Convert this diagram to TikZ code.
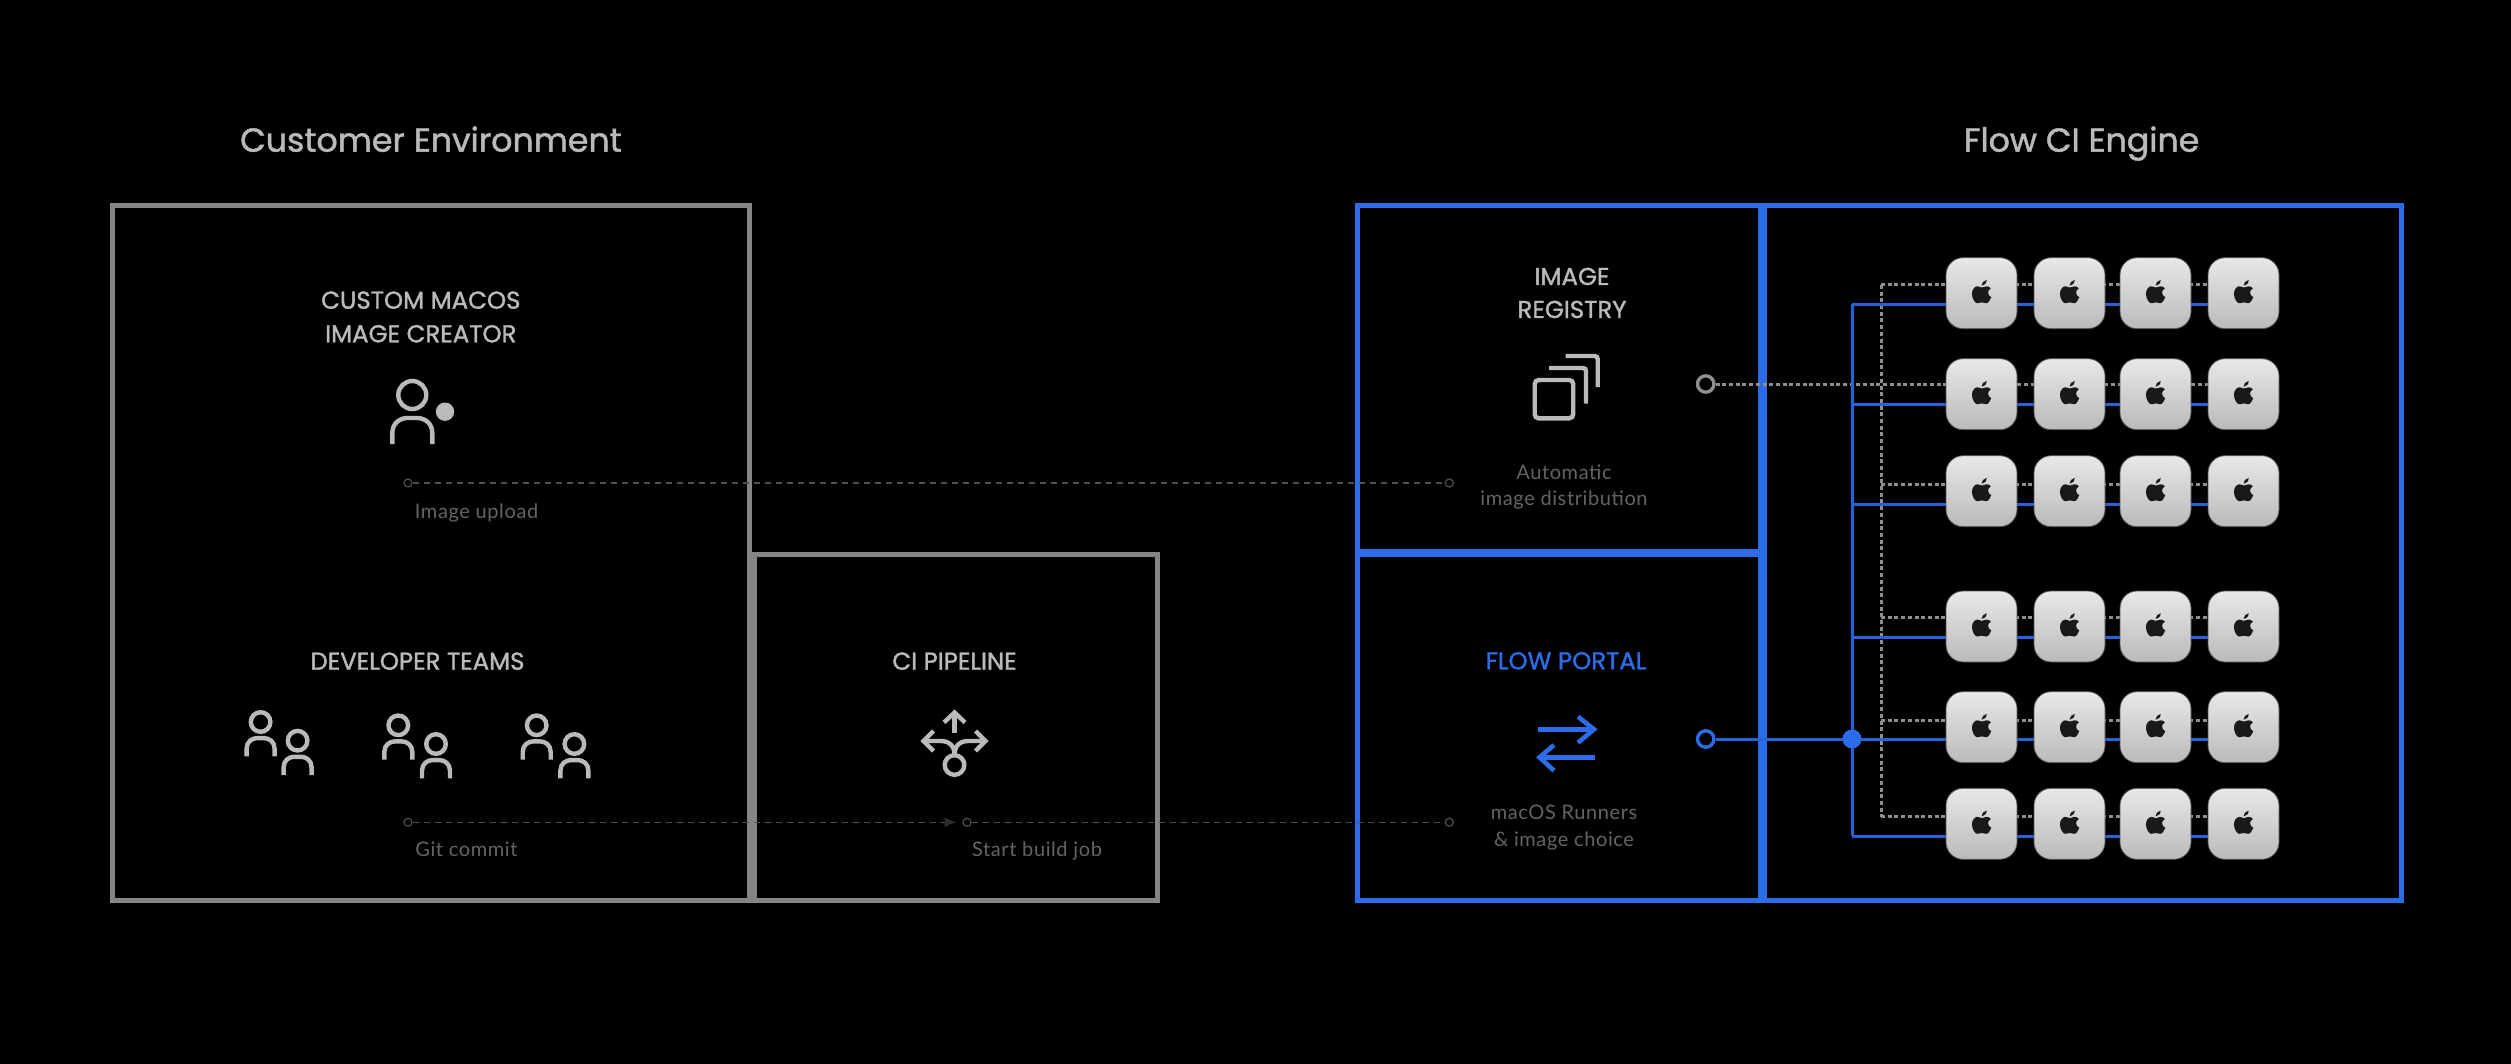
\documentclass[tikz,border=0pt]{standalone}
\usepackage{fontspec}
\setmainfont{Lato}
\newfontfamily\medfont[FakeBold=1.4]{Poppins}
\newfontfamily\dimfont[LetterSpace=3]{Lato}
\usetikzlibrary{arrows.meta}
\definecolor{boxgray}{HTML}{858585}
\definecolor{boxblue}{HTML}{2C6CE8}
\definecolor{linkblue}{HTML}{2862D8}
\definecolor{headtext}{HTML}{BABABA}
\definecolor{dimtext}{HTML}{646464}
\definecolor{dimline}{HTML}{505050}
\definecolor{dotgray}{HTML}{8E8E8E}
\tikzset{
  x=0.5pt,y=-0.5pt,
  box/.style={draw,rectangle,inner sep=0pt,outer sep=0pt,line width=2.5pt},
  graybox/.style={box,draw=boxgray},
  bluebox/.style={box,draw=boxblue},
  title/.style={anchor=base,inner sep=0pt,text=headtext,font=\medfont\fontsize{16.6}{20}\selectfont},
  heading/.style={anchor=base,inner sep=0pt,text=headtext,align=center,font=\medfont\fontsize{12.2}{16.6}\selectfont},
  dimlabel/.style={anchor=base,inner sep=0pt,text=dimtext,align=center,font=\dimfont\fontsize{10}{13.4}\selectfont},
  icon/.style={draw=headtext,line width=2.2pt,fill=none},
  dashlink/.style={draw=dimline,line width=0.6pt,dash pattern=on 3pt off 2.5pt},
  dotlink/.style={draw=dotgray,line width=1.5pt,dash pattern=on 2pt off 1.35pt},
  bluelink/.style={draw=linkblue,line width=1.5pt},
  smallport/.style={circle,draw=dimline,line width=0.6pt,inner sep=0pt,minimum size=4pt,fill=black},
  bigport/.style={circle,line width=1.7pt,inner sep=0pt,minimum size=8.2pt,fill=black},
  mini/.style={rectangle,rounded corners=8.5pt,minimum size=35.5pt,inner sep=0pt,outer sep=0pt,
    draw=black!35!gray,line width=0.4pt,top color=black!9,bottom color=black!27},
  applemark/.style={fill=black!90,draw=none},
}
\newcommand{\PersonIcon}[3]{%
  \begin{scope}[shift={(#1,#2)},scale=#3]
    \draw[icon] (0,0) circle (14);
    \draw[icon] (-20,49) -- (-20,38) .. controls (-20,28) and (-12,23) .. (-5,23) -- (5,23)
      .. controls (12,23) and (20,28) .. (20,38) -- (20,49);
  \end{scope}}
\newcommand{\AppleMark}[1]{%
  \begin{scope}[shift={(#1.center)},shift={(0,0.5)},scale=1.06]
    \fill[applemark] (0.2,-5.8) .. controls (1.5,-5.8) and (3,-7) .. (5,-7)
      .. controls (6.5,-7) and (8,-6.2) .. (8.8,-5)
      .. controls (6.9,-3.9) and (6.2,-2.4) .. (6.2,-1)
      .. controls (6.2,1) and (7.5,2.5) .. (9.2,3.2)
      .. controls (8.5,5.5) and (6.5,9) .. (4.5,9)
      .. controls (3,9) and (2,8.2) .. (0.3,8.2)
      .. controls (-1.5,8.2) and (-2.5,9) .. (-4,9)
      .. controls (-6.2,9) and (-9,4.5) .. (-9,0)
      .. controls (-9,-4.5) and (-6,-7) .. (-3.8,-7)
      .. controls (-2.3,-7) and (-1,-5.8) .. (0.2,-5.8) -- cycle;
    \fill[applemark] (0,-7.5) .. controls (0,-10) and (2,-12.5) .. (4.8,-13)
      .. controls (5,-10) and (2.8,-7.5) .. (0,-7.5) -- cycle;
  \end{scope}}
\begin{document}
\begin{tikzpicture}
\fill[black] (0,0) rectangle (2511,1064);
\useasboundingbox (0,0) rectangle (2511,1064);

% titles
\node[title] (t1) at (431,151.7) {Customer Environment};
\node[title] (t2) at (2081.5,151.7) {Flow CI Engine};

% customer boxes
\node[graybox,minimum width=318.25pt,minimum height=347.5pt] (cust) at (431.2,553) {};
\node[graybox,minimum width=201.5pt,minimum height=173pt] (cibox) at (956,727.5) {};

% engine boxes
\node[bluebox,minimum width=522pt,minimum height=347.5pt] (engine) at (1879.5,553) {};
\coordinate (divtop) at (1762.5,205.5);
\coordinate (divbot) at (1762.5,900.5);
\coordinate (midl) at (1357.5,553);
\coordinate (midr) at (1762.5,553);
\draw[boxblue,line width=4.5pt] (divtop) -- (divbot);
\draw[boxblue,line width=4pt] (midl) -- (midr);

% headings
\node[heading] (h1a) at (420.8,308.7) {CUSTOM MACOS};
\node[heading] (h1b) at (420.8,342.3) {IMAGE CREATOR};
\node[heading] (h2) at (417.5,669.7) {DEVELOPER TEAMS};
\node[heading] (h3) at (954.5,669.7) {CI PIPELINE};
\node[heading] (h4a) at (1572,285) {IMAGE};
\node[heading] (h4b) at (1572,318) {REGISTRY};
\node[heading,text=boxblue] (h5) at (1566,669.3) {FLOW PORTAL};

% icons
\PersonIcon{412.3}{395}{1}
\fill[headtext] (445,411.7) circle (9.2);
\PersonIcon{260.6}{722}{0.7}
\PersonIcon{297.6}{740.7}{0.7}
\PersonIcon{398.3}{725.3}{0.7}
\PersonIcon{436}{744}{0.7}
\PersonIcon{536.7}{725.3}{0.7}
\PersonIcon{574.4}{744}{0.7}

\begin{scope}[shift={(954.5,741)}]
  \draw[icon] (0,-28) -- (0,-8);
  \draw[icon,line join=miter] (-10.5,-18.5) -- (0,-28.5) -- (10.5,-18.5);
  \draw[icon] (-29,0) -- (-14,0) .. controls (-5,0) and (0,5) .. (0,14);
  \draw[icon] (29,0) -- (14,0) .. controls (5,0) and (0,5) .. (0,14);
  \draw[icon] (-21,-10) -- (-31,0) -- (-21,10);
  \draw[icon] (21,-10) -- (31,0) -- (21,10);
  \draw[icon] (0,24) circle (9.8);
\end{scope}

\draw[icon,rounded corners=2pt] (1534.7,380) rectangle (1573.2,418.3);
\draw[icon,rounded corners=1.5pt] (1549,368) -- (1586,368) -- (1586,403.5);
\draw[icon,rounded corners=1.5pt] (1565.7,356) -- (1597.7,356) -- (1597.7,387);

\draw[boxblue,line width=2.3pt] (1538,729.3) -- (1592,729.3);
\draw[boxblue,line width=2.3pt] (1578,716.7) -- (1594,729.3) -- (1578,742.7);
\draw[boxblue,line width=2.3pt] (1541,757.3) -- (1595,757.3);
\draw[boxblue,line width=2.3pt] (1554,745) -- (1539.5,757.3) -- (1554,770.7);

% dim labels
\node[dimlabel,anchor=base west] (l1) at (414.5,518) {Image upload};
\node[dimlabel,anchor=base west] (l2) at (415,856.7) {Git commit};
\node[dimlabel,anchor=base west] (l3) at (971.7,856.7) {Start build job};
\node[dimlabel] (l4a) at (1564,479) {Automatic};
\node[dimlabel] (l4b) at (1564,505.7) {image distribution};
\node[dimlabel] (l5a) at (1564,819) {macOS Runners};
\node[dimlabel] (l5b) at (1564,846) {\& image choice};

% dashed links across the diagram
\node[smallport] (pa) at (408,483) {};
\node[smallport] (pb) at (1449.3,483) {};
\node[smallport] (pc) at (408,822.3) {};
\node[smallport] (pd) at (967,822.3) {};
\node[smallport] (pe) at (1449.3,822.3) {};
\coordinate (citip) at (954.5,822.3);
\draw[dashlink] (pa) -- (pb);
\draw[dashlink] (pc) -- (citip);
\fill[dimline!120] (citip) -- ++(-10,-5) -- ++(0,10) -- cycle;
\draw[dashlink] (pd) -- (pe);

% rows of minis
\foreach \rid/\top in {1/257.7,2/358.7,3/455.7,4/591,5/691.7,6/788.3}{
  \foreach \cid/\left in {1/1946,2/2034,3/2120,4/2208}{
    \coordinate (g\rid\cid) at ({\left+35.5},{\top+35.5});
  }
}
\coordinate (bluetop) at (1852,304.3);
\coordinate (bluebot) at (1852,836.3);
\coordinate (dottop) at (1881,285);
\coordinate (dotbot) at (1881,816.7);
\coordinate (d1) at (1881,285);
\coordinate (d3) at (1881,484.3);
\coordinate (d4) at (1881,617.3);
\coordinate (d5) at (1881,720);
\coordinate (d6) at (1881,816.7);
\coordinate (b1) at (1852,304.3);
\coordinate (b2) at (1852,404);
\coordinate (b3) at (1852,504);
\coordinate (b4) at (1852,637);
\coordinate (b6) at (1852,836.3);

\node[bigport,draw=dotgray] (pgray) at (1705.7,384) {};
\node[bigport,draw=boxblue] (pblue) at (1705.7,739) {};

% dotted links
\draw[dotlink] (dottop) -- (dotbot);
\draw[dotlink] (pgray) -- (2250,384);
\foreach \i in {1,3,4,5,6}{ \draw[dotlink] (d\i) -- ++(369,0); }

% blue links
\draw[bluelink] (bluetop) -- (bluebot);
\foreach \i in {1,2,3,4,6}{ \draw[bluelink] (b\i) -- ++(398,0); }
\draw[bluelink] (pblue) -- (2250,739);
\node[circle,fill=boxblue,inner sep=0pt,minimum size=9.5pt] (hub) at (1852,739) {};

% minis
\foreach \rid in {1,...,6}{
  \foreach \cid in {1,...,4}{
    \node[mini] (m\rid\cid) at (g\rid\cid) {};
    \AppleMark{m\rid\cid}
  }
}
\end{tikzpicture}
\end{document}
